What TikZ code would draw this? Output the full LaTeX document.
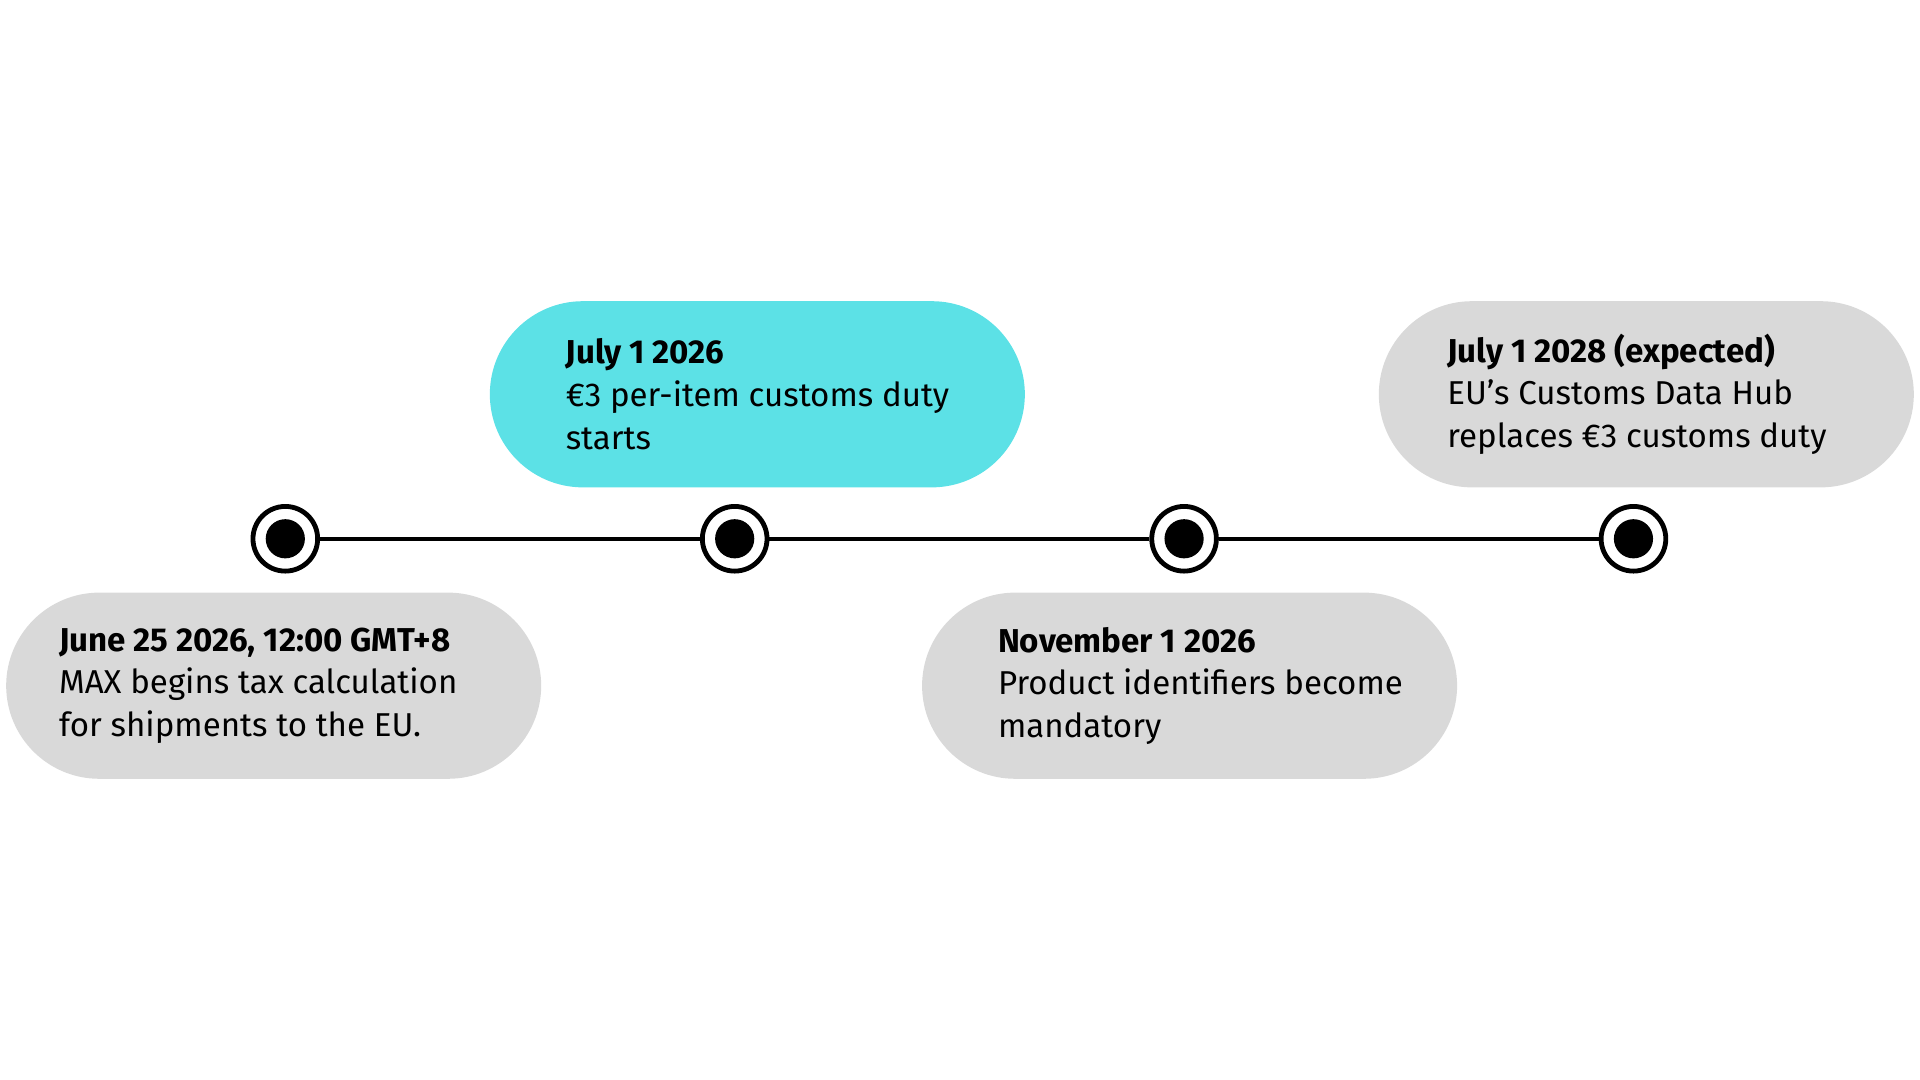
\documentclass[tikz,border=0pt]{standalone}
\usepackage{fontspec}
\setmainfont{Fira Sans}
\usetikzlibrary{positioning}
\definecolor{teal}{HTML}{5CE1E6}
\definecolor{pale}{HTML}{D9D9D9}
\tikzset{
  pill/.style={rectangle, rounded corners=0.95cm, minimum width=5.46cm,
    minimum height=1.9cm, inner sep=0pt},
  txt/.style={align=left, anchor=west, inner sep=0pt,
    font=\fontsize{9.6pt}{12.4pt}\selectfont},
  milestone/.style={circle, draw=black, line width=1.4pt, fill=white,
    minimum size=0.66cm, inner sep=0pt},
}
\begin{document}
\begin{tikzpicture}[x=0.0125cm, y=-0.0125cm]
  \useasboundingbox (0,0) rectangle (1568,882);
  \pgfmathsetmacro{\ty}{440} %timeline height

  %markers
  \foreach \i/\x in {1/233,2/600,3/967,4/1334}
    \node[milestone] (m\i) at (\x,\ty) {};
  \draw[line width=1.1pt] (m1) -- (m2);
  \draw[line width=1.1pt] (m2) -- (m3);
  \draw[line width=1.1pt] (m3) -- (m4);
  \foreach \i in {1,...,4}
    \fill (m\i.center) circle (16);

  %pills
  \node[pill, fill=pale] (p1) at (223.5,560) {};
  \node[pill, fill=teal] (p2) at (618.5,322) {};
  \node[pill, fill=pale] (p3) at (971.5,560) {};
  \node[pill, fill=pale] (p4) at (1344.5,322) {};

  %texts
  \node[txt] (t1) at ([xshift=0.54cm]p1.west)
    {\textbf{June 25 2026, 12:00 GMT+8}\\MAX begins tax calculation\\for shipments to the EU.};
  \node[txt] (t2) at ([xshift=0.775cm]p2.west)
    {\textbf{July 1 2026}\\€3 per-item customs duty\\starts};
  \node[txt] (t3) at ([xshift=0.775cm]p3.west)
    {\textbf{November 1 2026}\\Product identifiers become\\mandatory};
  \node[txt] (t4) at ([xshift=0.7cm]p4.west)
    {\textbf{July 1 2028 (expected)}\\EU's Customs Data Hub\\replaces €3 customs duty};
\end{tikzpicture}
\end{document}
